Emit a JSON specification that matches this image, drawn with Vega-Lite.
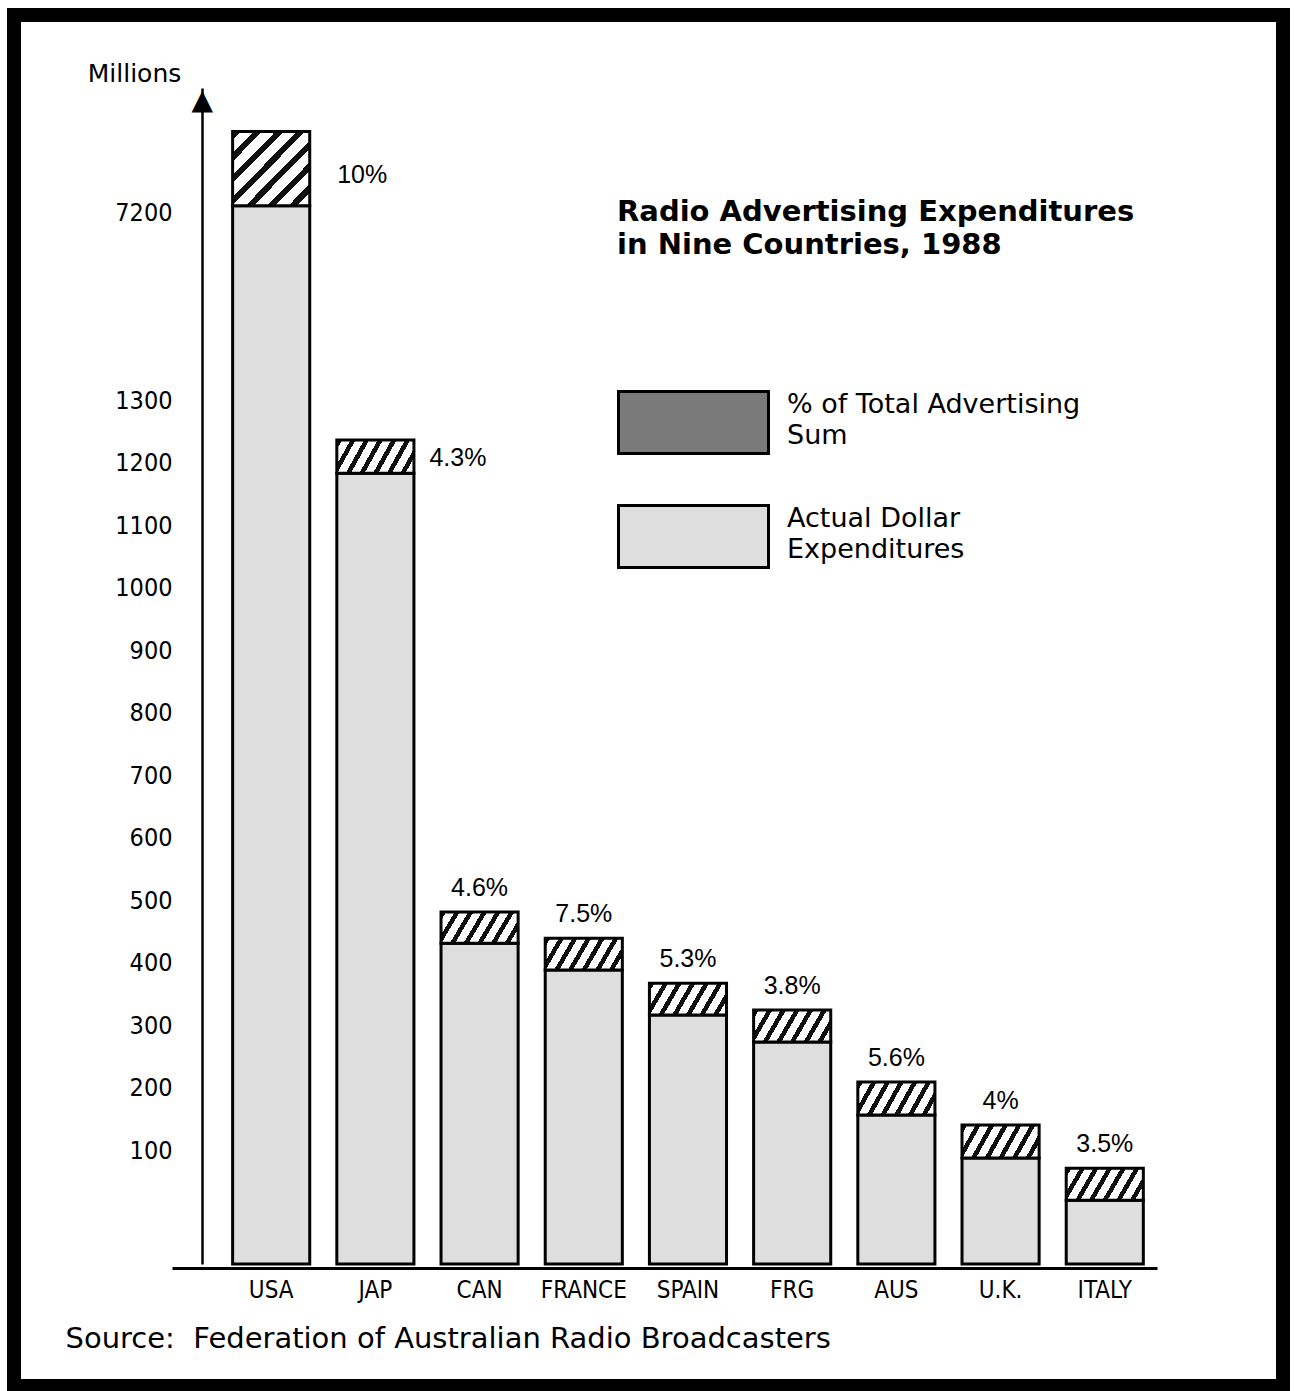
{
  "$schema": "https://vega.github.io/schema/vega-lite/v6.json",
  "width": 1269,
  "height": 1371,
  "autosize": {"type": "none"},
  "padding": {"left": 14, "top": 15, "right": 13, "bottom": 5},
  "background": "white",
  "config": {
    "view": {"stroke": "black", "strokeWidth": 14, "fill": "white"},
    "font": "DejaVu Sans"
  },
  "title": {
    "text": ["Radio Advertising Expenditures", "in Nine Countries, 1988"],
    "orient": "top",
    "anchor": "start",
    "frame": "group",
    "offset": 0,
    "dx": 603,
    "dy": 245,
    "baseline": "top",
    "font": "DejaVu Sans",
    "fontSize": 29,
    "fontWeight": "bold",
    "lineHeight": 33,
    "color": "black"
  },
  "data": {
    "values": [
      {"country": "USA", "dollars": 7220, "total": 7460, "pct": "10%"},
      {"country": "JAP", "dollars": 1183, "total": 1236, "pct": "4.3%"},
      {"country": "CAN", "dollars": 431, "total": 481, "pct": "4.6%"},
      {"country": "FRANCE", "dollars": 388, "total": 439, "pct": "7.5%"},
      {"country": "SPAIN", "dollars": 316, "total": 367, "pct": "5.3%"},
      {"country": "FRG", "dollars": 273, "total": 324, "pct": "3.8%"},
      {"country": "AUS", "dollars": 156, "total": 209, "pct": "5.6%"},
      {"country": "U.K.", "dollars": 93, "total": 140, "pct": "4%"},
      {"country": "ITALY", "dollars": 56, "total": 84, "pct": "3.5%"}
    ]
  },
  "layer": [
    {
      "mark": {"type": "bar", "stroke": "black", "strokeWidth": 3},
      "encoding": {
        "x": {
          "field": "country",
          "type": "nominal",
          "sort": null,
          "scale": {"range": [158, 1143], "paddingInner": 0.26, "paddingOuter": 0.3565, "align": 0.816},
          "axis": {
            "title": "Source:\u00a0 Federation of Australian Radio Broadcasters",
            "orient": "bottom",
            "offset": -118,
            "ticks": false,
            "tickSize": 0,
            "domainColor": "black",
            "domainWidth": 3,
            "labelAngle": 0,
            "labelFont": "'DejaVu Sans Condensed', 'Liberation Sans', sans-serif",
            "labelFontSize": 24,
            "labelColor": "black",
            "labelPadding": 10,
            "labelBaseline": "top",
            "titleFont": "DejaVu Sans",
            "titleFontSize": 29,
            "titleFontWeight": "normal",
            "titleColor": "black",
            "titleAnchor": "start",
            "titleAlign": "left",
            "titleBaseline": "middle",
            "titleX": 51,
            "titleY": 70
          }
        },
        "y": {
          "field": "dollars",
          "type": "quantitative",
          "scale": {
            "domain": [0, 100, 1300, 7200, 7600],
            "range": [1249, 1135, 385, 197, 73],
            "nice": false
          },
          "axis": {
            "values": [100, 200, 300, 400, 500, 600, 700, 800, 900, 1000, 1100, 1200, 1300, 7200],
            "format": "d",
            "ticks": false,
            "tickSize": 0,
            "grid": false,
            "offset": -188,
            "domainColor": "black",
            "domainWidth": 2.5,
            "labelFont": "'DejaVu Sans Condensed', 'Liberation Sans', sans-serif",
            "labelFontSize": 25,
            "labelColor": "black",
            "labelPadding": 30,
            "labelFlush": false,
            "labelOverlap": false,
            "title": "Millions",
            "titleAngle": 0,
            "titleX": -68,
            "titleY": 58,
            "titleAlign": "center",
            "titleBaseline": "middle",
            "titleFont": "DejaVu Sans",
            "titleFontSize": 25,
            "titleFontWeight": "normal",
            "titleColor": "black"
          }
        },
        "fill": {
          "datum": "Actual Dollar Expenditures",
          "type": "nominal",
          "scale": {
            "domain": ["% of Total Advertising Sum", "Actual Dollar Expenditures"],
            "range": ["#7a7a7a", "#dedede"]
          },
          "legend": {
            "orient": "none",
            "legendX": 603,
            "legendY": 331,
            "title": null,
            "padding": 0,
            "symbolType": "M-1,-0.413H1V0.413H-1Z",
            "symbolSize": 22500,
            "symbolStrokeWidth": 3,
            "symbolStrokeColor": "black",
            "symbolOpacity": 1,
            "labelFont": "DejaVu Sans",
            "labelFontSize": 27,
            "labelColor": "black",
            "labelOffset": 17,
            "labelLimit": 500,
            "rowPadding": -67,
            "labelExpr": "datum.value === '% of Total Advertising Sum' ? ['% of Total Advertising', 'Sum'] : ['Actual Dollar', 'Expenditures']",
            "encode": {
              "symbols": {
                "update": {
                  "stroke": {"value": "black"},
                  "strokeWidth": {"value": 3},
                  "opacity": {"value": 1}
                }
              },
              "labels": {
                "update": {
                  "dy": {"value": -18},
                  "lineHeight": {"value": 31}
                }
              }
            }
          }
        }
      }
    },
    {
      "mark": {"type": "bar", "stroke": "black", "strokeWidth": 3},
      "encoding": {
        "x": {"field": "country", "type": "nominal", "sort": null},
        "y": {"field": "total", "type": "quantitative"},
        "y2": {"field": "dollars"},
        "fill": {
          "condition": {
            "test": "datum.country === 'USA'",
            "value": {
              "gradient": "linear", "x1": 0, "y1": 0, "x2": 1.026, "y2": 0.973,
              "stops": [
                {"offset": 0, "color": "#111"}, {"offset": 0.0543, "color": "#111"}, {"offset": 0.0543, "color": "#fff"}, {"offset": 0.1429, "color": "#fff"},
                {"offset": 0.1429, "color": "#111"}, {"offset": 0.1971, "color": "#111"}, {"offset": 0.1971, "color": "#fff"}, {"offset": 0.2857, "color": "#fff"},
                {"offset": 0.2857, "color": "#111"}, {"offset": 0.34, "color": "#111"}, {"offset": 0.34, "color": "#fff"}, {"offset": 0.4286, "color": "#fff"},
                {"offset": 0.4286, "color": "#111"}, {"offset": 0.4829, "color": "#111"}, {"offset": 0.4829, "color": "#fff"}, {"offset": 0.5714, "color": "#fff"},
                {"offset": 0.5714, "color": "#111"}, {"offset": 0.6257, "color": "#111"}, {"offset": 0.6257, "color": "#fff"}, {"offset": 0.7143, "color": "#fff"},
                {"offset": 0.7143, "color": "#111"}, {"offset": 0.7686, "color": "#111"}, {"offset": 0.7686, "color": "#fff"}, {"offset": 0.8571, "color": "#fff"},
                {"offset": 0.8571, "color": "#111"}, {"offset": 0.9114, "color": "#111"}, {"offset": 0.9114, "color": "#fff"}, {"offset": 1, "color": "#fff"}
              ]
            }
          },
          "value": {
            "gradient": "linear", "x1": 0, "y1": 0, "x2": 1.172, "y2": 0.281,
            "stops": [
              {"offset": 0, "color": "#111"}, {"offset": 0.0543, "color": "#111"}, {"offset": 0.0543, "color": "#fff"}, {"offset": 0.1429, "color": "#fff"},
              {"offset": 0.1429, "color": "#111"}, {"offset": 0.1971, "color": "#111"}, {"offset": 0.1971, "color": "#fff"}, {"offset": 0.2857, "color": "#fff"},
              {"offset": 0.2857, "color": "#111"}, {"offset": 0.34, "color": "#111"}, {"offset": 0.34, "color": "#fff"}, {"offset": 0.4286, "color": "#fff"},
              {"offset": 0.4286, "color": "#111"}, {"offset": 0.4829, "color": "#111"}, {"offset": 0.4829, "color": "#fff"}, {"offset": 0.5714, "color": "#fff"},
              {"offset": 0.5714, "color": "#111"}, {"offset": 0.6257, "color": "#111"}, {"offset": 0.6257, "color": "#fff"}, {"offset": 0.7143, "color": "#fff"},
              {"offset": 0.7143, "color": "#111"}, {"offset": 0.7686, "color": "#111"}, {"offset": 0.7686, "color": "#fff"}, {"offset": 0.8571, "color": "#fff"},
              {"offset": 0.8571, "color": "#111"}, {"offset": 0.9114, "color": "#111"}, {"offset": 0.9114, "color": "#fff"}, {"offset": 1, "color": "#fff"}
            ]
          }
        }
      }
    },
    {
      "transform": [{"filter": "datum.country !== 'USA' && datum.country !== 'JAP'"}],
      "mark": {"type": "text", "font": "Liberation Sans", "fontSize": 25, "baseline": "alphabetic", "align": "center", "dy": -16, "color": "black"},
      "encoding": {
        "x": {"field": "country", "type": "nominal", "sort": null},
        "y": {"field": "total", "type": "quantitative"},
        "text": {"field": "pct"}
      }
    },
    {
      "transform": [{"filter": "datum.country === 'USA'"}],
      "mark": {"type": "text", "font": "Liberation Sans", "fontSize": 25, "baseline": "alphabetic", "align": "left", "dx": 66, "dy": 52, "color": "black"},
      "encoding": {
        "x": {"field": "country", "type": "nominal", "sort": null},
        "y": {"field": "total", "type": "quantitative"},
        "text": {"field": "pct"}
      }
    },
    {
      "transform": [{"filter": "datum.country === 'JAP'"}],
      "mark": {"type": "text", "font": "Liberation Sans", "fontSize": 25, "baseline": "alphabetic", "align": "left", "dx": 54, "dy": 26, "color": "black"},
      "encoding": {
        "x": {"field": "country", "type": "nominal", "sort": null},
        "y": {"field": "total", "type": "quantitative"},
        "text": {"field": "pct"}
      }
    },
    {
      "data": {"values": [{"marker": "arrow"}]},
      "mark": {"type": "text", "text": "▲", "font": "DejaVu Sans", "fontSize": 28, "baseline": "top", "align": "center", "dx": -69, "dy": -1, "color": "black"},
      "encoding": {
        "x": {"datum": "USA", "type": "nominal"},
        "y": {"datum": 7600, "type": "quantitative"}
      }
    }
  ]
}
